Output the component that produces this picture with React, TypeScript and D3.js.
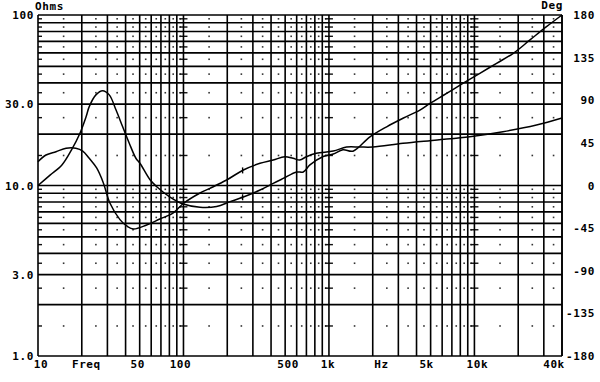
import React from "react";
import * as d3 from "d3";

// ---- data ----
const impFreq = [10, 12.1, 14.6, 17.0, 19.4, 21.4, 22.5, 25.0, 27.8, 30.9, 34.4, 38.2, 42.4, 47.2, 50.2, 58.9, 65.5, 80.8, 99.7, 130, 169, 209, 258, 336, 414, 485, 600, 666, 740, 913, 1071, 1248, 1462, 1914, 2493, 3228, 4220, 4944, 6440, 8380, 10900, 14200, 18500, 24100, 31300, 40000];
const impOhms = [10.0, 11.5, 13.2, 16.2, 20.2, 25.3, 29.0, 34.0, 36.0, 34.0, 27.7, 22.1, 17.7, 14.4, 13.5, 10.8, 9.84, 8.56, 7.79, 7.45, 7.53, 8.04, 8.56, 9.41, 10.3, 11.0, 12.0, 12.0, 13.2, 14.8, 15.3, 16.2, 15.9, 19.3, 22.1, 24.8, 27.7, 30.3, 34.7, 39.8, 45.5, 52.1, 59.6, 71.4, 85.4, 100];

const phaseFreq = [10, 11.35, 13.3, 15.6, 18.2, 20.3, 22.5, 25.3, 28.1, 31.2, 36.6, 41.0, 45.3, 55.8, 68.8, 85.1, 99.7, 130, 152, 198, 258, 336, 414, 497, 567, 630, 700, 818, 1071, 1320, 1630, 2000, 3228, 5550, 9290, 15700, 26700, 40000];
const phaseDeg = [25.1, 32.2, 35.7, 39.3, 39.3, 36.4, 28.7, 18.5, 3.0, -18.5, -36.0, -43.0, -45.9, -41.7, -35.4, -29.0, -19.0, -7.9, -3.0, 5.8, 16.4, 23.4, 26.9, 30.4, 28.7, 26.9, 30.4, 34.0, 36.4, 40.6, 40.6, 40.6, 44.5, 48.0, 51.5, 56.8, 63.9, 71.3];

const markerFreq = 255;

const ohmTickValues = [100, 30, 10, 3, 1];
const ohmTickLabels = ["100", "30.0", "10.0", "3.0", "1.0"];
const degTickValues = [180, 135, 90, 45, 0, -45, -90, -135, -180];
const freqLabelValues = [10, 21.5, 50, 100, 500, 1000, 2300, 5000, 10000, 40000];
const freqLabelTexts = ["10", "Freq", "50", "100", "500", "1k", "Hz", "5k", "10k", "40k"];
const freqLabelShift = [3, 0, -2, -3, 3, -1, 0, -4, 3, -8];

const W = 600, H = 382;
const L = 38, R = 562, T = 15, B = 356;

export default function App() {
  const x = d3.scaleLog().domain([10, 40000]).range([L, R]);
  const yOhm = d3.scaleLog().domain([1, 100]).range([B, T]);
  const yDeg = d3.scaleLinear().domain([-180, 180]).range([B, T]);

  // grid values
  const vLines: number[] = [];
  const midF: number[] = [];
  for (let dec = 10; dec <= 10000; dec *= 10) {
    for (let m = 1; m <= 9; m++) {
      const f = m * dec;
      if (f <= 40000) vLines.push(f);
      const mf = (m + 0.5) * dec;
      if (mf < 40000) midF.push(mf);
    }
  }
  const hLines: number[] = [];
  const midZ: number[] = [];
  for (let dec = 1; dec <= 10; dec *= 10) {
    for (let m = 1; m <= 9; m++) {
      hLines.push(m * dec);
      midZ.push((m + 0.5) * dec);
    }
  }
  hLines.push(100);
  const decades = [10, 100, 1000, 10000];

  const impPts: [number, number][] = impFreq.map((f, i) => [x(f), yOhm(impOhms[i])]);
  const phPts: [number, number][] = phaseFreq.map((f, i) => [x(f), yDeg(phaseDeg[i])]);
  const line = d3.line().curve(d3.curveCatmullRom.alpha(0.5));

  const interp = (fs: number[], vs: number[], f: number) => {
    for (let i = 0; i < fs.length - 1; i++) {
      if (f >= fs[i] && f <= fs[i + 1]) {
        const t = (Math.log(f) - Math.log(fs[i])) / (Math.log(fs[i + 1]) - Math.log(fs[i]));
        return vs[i] + t * (vs[i + 1] - vs[i]);
      }
    }
    return vs[vs.length - 1];
  };
  const mImpY = yOhm(interp(impFreq, impOhms, markerFreq));
  const mPhY = yDeg(interp(phaseFreq, phaseDeg, markerFreq));

  const font = "'DejaVu Sans Mono', monospace";
  const textStyle = { fontFamily: font, fontWeight: 700, fontSize: 11, letterSpacing: 0.6 } as const;

  return (
    <svg width={W} height={H} style={{ position: "absolute", left: 0, top: 0, background: "#fff" }}>
      <rect x={0} y={0} width={W} height={H} fill="#fff" />
      {/* dots */}
      <g fill="#333">
        {midZ.map((z) =>
          midF.map((f) => (
            <rect key={`d${z}-${f}`} x={x(f) - 0.8} y={yOhm(z) - 0.8} width={1.6} height={1.6} />
          ))
        )}
      </g>
      {/* decade dashes */}
      <g stroke="#111" strokeWidth={1.4}>
        {midZ.map((z) =>
          decades.map((f) => (
            <line key={`k${z}-${f}`} x1={Math.max(L, x(f) - 4)} x2={x(f) + 4} y1={yOhm(z)} y2={yOhm(z)} />
          ))
        )}
      </g>
      {/* grid */}
      <g stroke="#000" strokeWidth={1.6}>
        {hLines.map((z) => (
          <line key={`h${z}`} x1={L} x2={R} y1={yOhm(z)} y2={yOhm(z)} />
        ))}
        {vLines.map((f) => (
          <line key={`v${f}`} x1={x(f)} x2={x(f)} y1={T} y2={B} />
        ))}
        <line x1={R} x2={R} y1={T} y2={B} />
      </g>
      {/* curves */}
      <path d={line(phPts) || ""} fill="none" stroke="#000" strokeWidth={1.5} />
      <path d={line(impPts) || ""} fill="none" stroke="#000" strokeWidth={1.5} />
      <g stroke="#000" strokeWidth={1.4}>
        <line x1={x(markerFreq)} x2={x(markerFreq)} y1={mImpY - 3} y2={mImpY + 3} />
        <line x1={x(markerFreq)} x2={x(markerFreq)} y1={mPhY - 3} y2={mPhY + 3} />
      </g>
      {/* labels */}
      <g {...textStyle} fill="#000">
        <text x={35} y={9.5}>Ohms</text>
        <text x={563} y={9} textAnchor="end">Deg</text>
        {ohmTickValues.map((v, i) => (
          <text key={`o${v}`} x={34} y={yOhm(v) + 4} textAnchor="end">{ohmTickLabels[i]}</text>
        ))}
        {degTickValues.map((v) => (
          <text key={`g${v}`} x={595} y={yDeg(v) + 4} textAnchor="end">{String(v)}</text>
        ))}
        {freqLabelValues.map((f, i) => (
          <text key={`f${i}`} x={x(f) + freqLabelShift[i]} y={368} textAnchor="middle">{freqLabelTexts[i]}</text>
        ))}
      </g>
    </svg>
  );
}
